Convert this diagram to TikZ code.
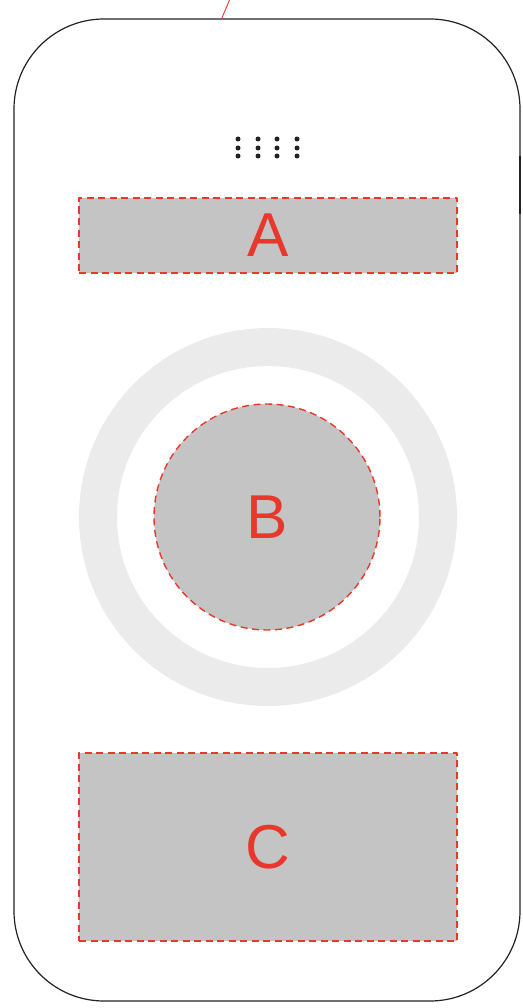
\documentclass[tikz,border=0pt]{standalone}
\usepackage{fontspec}
\setmainfont{Liberation Sans}
\usepackage{xcolor}
\usetikzlibrary{calc}
\definecolor{zonegray}{HTML}{C4C4C4}
\definecolor{ringgray}{HTML}{EBEBEB}
\definecolor{zonered}{HTML}{E8382C}
\definecolor{edgeblack}{HTML}{222222}
\tikzset{
  zone/.style={draw=zonered,fill=zonegray,dash pattern=on 7pt off 4.5pt,line width=1.4pt,
    text=zonered,font=\fontsize{62}{62}\selectfont,inner sep=0pt},
  grille/.style={fill=edgeblack},
}
\begin{document}
\begin{tikzpicture}[x=1pt,y=-1pt,line join=round]
  \useasboundingbox (0,0) rectangle (522,1008);
  % case outline
  \coordinate (TL) at (14,19);
  \coordinate (BR) at (520,1001);
  \coordinate (CUT) at (221.5,19);
  \coordinate (CUTEND) at (229.5,0);
  \draw[edgeblack,line width=1.2pt,rounded corners=90pt] (TL) rectangle (BR);
  \draw[edgeblack,line width=1.8pt] (520.3,156) -- (520.3,214);
  \draw[zonered,line width=0.9pt] (CUT) -- (CUTEND);
  % speaker grille
  \foreach \x in {238,258,277,297}
    \foreach \y in {139,148,156}
      \fill[grille] (\x,\y) circle (2.5pt);
  % zones
  \node[zone,minimum width=378pt,minimum height=75pt] (A) at (268,235.5) {A};
  \draw[ringgray,line width=38pt] (268,517) circle (170pt);
  \node[zone,circle,minimum size=226pt] (B) at (267,517) {B};
  \node[zone,minimum width=378pt,minimum height=188pt] (C) at (268,847) {C};
\end{tikzpicture}
\end{document}
